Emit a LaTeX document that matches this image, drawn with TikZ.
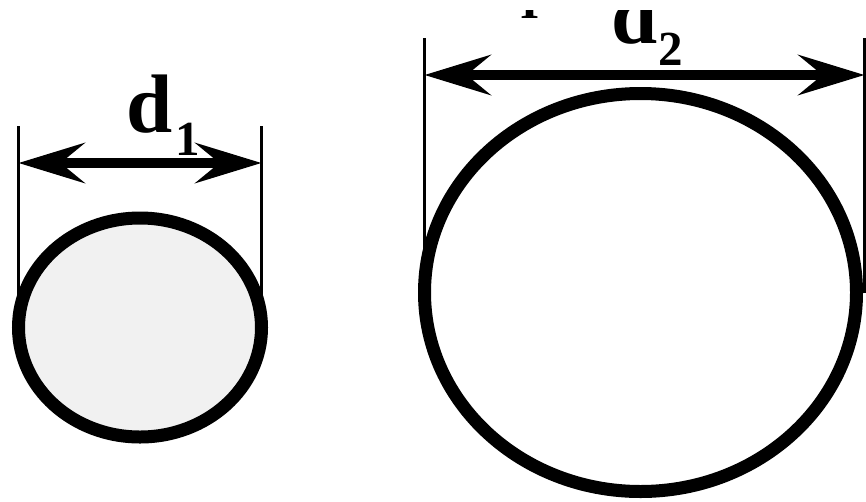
\documentclass[tikz,border=0pt]{standalone}
\usepackage{fontspec}
\setmainfont{Liberation Serif}
\usetikzlibrary{arrows.meta,shapes.geometric}
\definecolor{wirefill}{RGB}{241,241,241}
\tikzset{
  wire/.style={ellipse,draw=black,line width=13pt,inner sep=0pt,outer sep=0pt},
  extline/.style={line width=2.5pt},
  dimtip/.tip={Stealth[length=66pt,width=40pt,inset=24pt]},
  dimarrow/.style={line width=10pt,dimtip-dimtip},
  dlabel/.style={anchor=base west,inner sep=0pt,font=\bfseries\fontsize{83}{83}\selectfont},
  sublabel/.style={anchor=base west,inner sep=0pt,font=\bfseries\fontsize{49}{49}\selectfont}
}

\begin{document}
\begin{tikzpicture}[x=1pt,y=-1pt]
\useasboundingbox (0,0) rectangle (866,501);
\clip (0,0) rectangle (866,501);
% the two cross sections
\node[wire,fill=wirefill,minimum width=243pt,minimum height=219pt] (small) at (140,327.5) {};
\node[wire,fill=white,minimum width=432pt,minimum height=398pt] (big) at (640.5,292.5) {};
% extension lines
\coordinate (top1) at (0,126);
\coordinate (top2) at (0,38);
\draw[extline] (small.west) -- (small.west |- top1);
\draw[extline] (small.east) -- (small.east |- top1);
\draw[extline] (big.west) -- (big.west |- top2);
\draw[extline] ([xshift=8pt]big.east) -- ([xshift=8pt]big.east |- top2);
% dimension arrows
\coordinate (arr1) at (0,163);
\coordinate (arr2) at (0,75);
\draw[dimarrow] (small.west |- arr1) -- (small.east |- arr1);
\draw[dimarrow] (big.west |- arr2) -- ([xshift=8pt]big.east |- arr2);
% labels
\node[dlabel] (d1) at (126,132) {d};
\node[sublabel] (d1sub) at (175,155) {1};
\begin{scope}
\clip (400,10) rectangle (866,501);
\node[dlabel] (d2) at (611,43) {d};
\node[sublabel] (d2sub) at (658,65) {2};
\node[sublabel,anchor=base] (frag) at (530,18) {I};
\end{scope}
\end{tikzpicture}
\end{document}
